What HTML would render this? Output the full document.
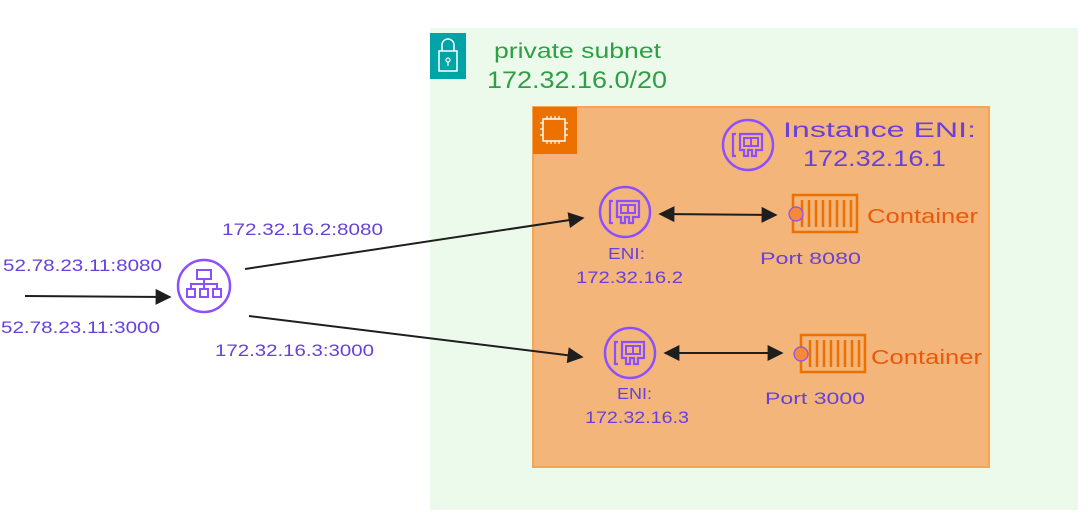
<!DOCTYPE html>
<html><head><meta charset="utf-8"><style>
html,body{margin:0;padding:0;background:#fff;width:1092px;height:524px;overflow:hidden}
svg text{font-family:"Comic Sans MS","Liberation Sans",sans-serif}
</style></head><body>
<svg width="1092" height="524" viewBox="0 0 1092 524" xmlns="http://www.w3.org/2000/svg">
<defs>
<marker id="ah" viewBox="0 0 10 10" refX="9" refY="5" markerUnits="userSpaceOnUse" markerWidth="22" markerHeight="16" orient="auto-start-reverse"><path d="M0,0 L10,5 L0,10 z" fill="#1e1e1e"/></marker>
<g id="eni"><circle cx="0" cy="0" r="25" fill="none" stroke="#8c4fff" stroke-width="2.5"/>
<path d="M-12,-11 h-3 v22 h3" fill="none" stroke="#8c4fff" stroke-width="2.2"/>
<path d="M-8,-11 h22 v16 h-6 v6 h-4 v-6 h-4 v6 h-4 v-6 h-4 z" fill="none" stroke="#8c4fff" stroke-width="2.2"/>
<rect x="-4" y="-7" width="14" height="8" fill="none" stroke="#8c4fff" stroke-width="2"/><path d="M3,-7v8" stroke="#8c4fff" stroke-width="2"/></g>
<g id="ctr"><rect x="0" y="0" width="64" height="37" fill="none" stroke="#ed7100" stroke-width="2.5"/>
<path d="M9,5v27M16,5v27M23,5v27M30,5v27M37,5v27M44,5v27M51,5v27M58,5v27" stroke="#ed7100" stroke-width="2.5"/></g>
</defs>
<rect x="430" y="28" width="648" height="482" fill="#ebfaeb"/>
<rect x="430" y="33" width="36" height="46" fill="#01a4a6"/>
<path d="M442,51 v-6 a6,6 0 0 1 12,0 v6" fill="none" stroke="#fff" stroke-width="1.5"/>
<rect x="439" y="51" width="18" height="20" fill="none" stroke="#fff" stroke-width="1.5"/>
<circle cx="448" cy="60" r="2" fill="none" stroke="#fff" stroke-width="1.2"/><path d="M448,62v4" stroke="#fff" stroke-width="1.2"/>
<text x="494" y="58" font-size="21" fill="#2f9e44" textLength="167" lengthAdjust="spacingAndGlyphs">private subnet</text>
<text x="487" y="88" font-size="24" fill="#2f9e44" textLength="180" lengthAdjust="spacingAndGlyphs">172.32.16.0/20</text>
<rect x="533" y="107" width="456" height="360" fill="#f4b57a" stroke="#f9a54e" stroke-width="2"/>
<rect x="533" y="107" width="44" height="47" fill="#ed7100"/>
<rect x="543" y="119" width="22" height="22" fill="none" stroke="#fff" stroke-width="1.5"/>
<path d="M547,119v-3M551,119v-3M555,119v-3M559,119v-3M547,141v3M551,141v3M555,141v3M559,141v3M543,123h-3M543,129h-3M543,135h-3M565,123h3M565,129h3M565,135h3" stroke="#fff" stroke-width="1.2"/>
<use href="#eni" x="748" y="145"/>
<text x="783" y="137" font-size="21" fill="#6741d9" textLength="193" lengthAdjust="spacingAndGlyphs">Instance ENI:</text>
<text x="803" y="166" font-size="22" fill="#6741d9" textLength="143" lengthAdjust="spacingAndGlyphs">172.32.16.1</text>
<use href="#eni" x="625" y="212"/>
<text x="608" y="259" font-size="16" fill="#6741d9" textLength="37" lengthAdjust="spacingAndGlyphs">ENI:</text>
<text x="576" y="283" font-size="17" fill="#6741d9" textLength="107" lengthAdjust="spacingAndGlyphs">172.32.16.2</text>
<use href="#ctr" x="793" y="195"/>
<circle cx="796" cy="214" r="7" fill="#f4893a" stroke="#8c4fff" stroke-width="1.2"/>
<text x="867" y="223" font-size="20" fill="#e8590c" textLength="111" lengthAdjust="spacingAndGlyphs">Container</text>
<text x="760" y="264" font-size="17" fill="#6741d9" textLength="101" lengthAdjust="spacingAndGlyphs">Port 8080</text>
<use href="#eni" x="630" y="353"/>
<text x="617" y="399" font-size="16" fill="#6741d9" textLength="35" lengthAdjust="spacingAndGlyphs">ENI:</text>
<text x="585" y="423" font-size="17" fill="#6741d9" textLength="104" lengthAdjust="spacingAndGlyphs">172.32.16.3</text>
<use href="#ctr" x="801" y="335"/>
<circle cx="801" cy="354" r="7" fill="#f4893a" stroke="#8c4fff" stroke-width="1.2"/>
<text x="871" y="364" font-size="20" fill="#e8590c" textLength="111" lengthAdjust="spacingAndGlyphs">Container</text>
<text x="765" y="404" font-size="17" fill="#6741d9" textLength="100" lengthAdjust="spacingAndGlyphs">Port 3000</text>
<line x1="660" y1="214" x2="776" y2="215" stroke="#1e1e1e" stroke-width="2" marker-start="url(#ah)" marker-end="url(#ah)"/>
<line x1="665" y1="353" x2="782" y2="353" stroke="#1e1e1e" stroke-width="2" marker-start="url(#ah)" marker-end="url(#ah)"/>
<circle cx="204" cy="286" r="26" fill="none" stroke="#8c4fff" stroke-width="2.5"/>
<g fill="none" stroke="#8c4fff" stroke-width="2"><rect x="197" y="270" width="14" height="9"/><path d="M204,279v5M191,289v-5h26v5M204,284v5"/>
<rect x="187" y="289" width="8" height="8"/><rect x="200" y="289" width="8" height="8"/><rect x="213" y="289" width="8" height="8"/></g>
<text x="3" y="271" font-size="17" fill="#6741d9" textLength="159" lengthAdjust="spacingAndGlyphs">52.78.23.11:8080</text>
<text x="1" y="333" font-size="17" fill="#6741d9" textLength="159" lengthAdjust="spacingAndGlyphs">52.78.23.11:3000</text>
<text x="222" y="235" font-size="17" fill="#6741d9" textLength="161" lengthAdjust="spacingAndGlyphs">172.32.16.2:8080</text>
<text x="215" y="356" font-size="17" fill="#6741d9" textLength="159" lengthAdjust="spacingAndGlyphs">172.32.16.3:3000</text>
<line x1="25" y1="296" x2="170" y2="297" stroke="#1e1e1e" stroke-width="2" marker-end="url(#ah)"/>
<line x1="245" y1="269" x2="583" y2="218" stroke="#1e1e1e" stroke-width="2" marker-end="url(#ah)"/>
<line x1="249" y1="316" x2="582" y2="357" stroke="#1e1e1e" stroke-width="2" marker-end="url(#ah)"/>
</svg>
</body></html>
